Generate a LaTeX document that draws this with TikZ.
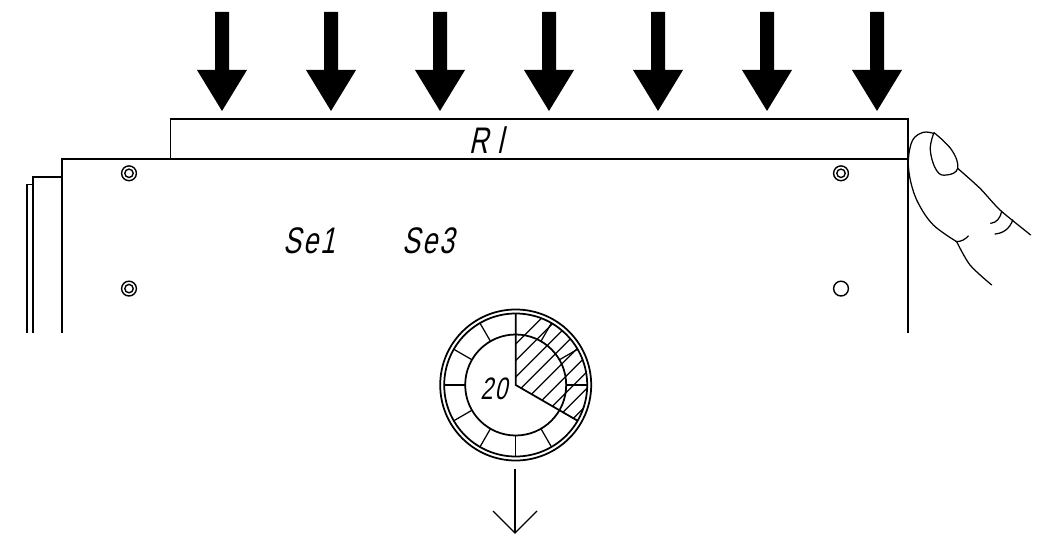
\documentclass[tikz,border=0pt]{standalone}
\usepackage{fontspec}
\newfontfamily\isofont[FakeStretch=0.72,FakeSlant=0.22,LetterSpace=6]{Liberation Sans}
\tikzset{
  ln/.style={line width=1.75pt,black},
  thin ln/.style={line width=1.25pt,black,line cap=round,line join=round},
  lbl/.style={inner sep=0pt,font=\isofont\fontsize{37}{37}\selectfont},
  dial lbl/.style={inner sep=0pt,font=\isofont\fontsize{31}{31}\selectfont},
}
\begin{document}
\begin{tikzpicture}[x=1pt,y=-1pt]
\useasboundingbox (0,0) rectangle (1038,540);
% load arrows
\foreach \ax in {222,331,440,549,658,767,877}{
  \fill[black] (\ax-7,12) -- (\ax+7,12) -- (\ax+7,70) -- (\ax+25,70) -- (\ax,111) -- (\ax-25,70) -- (\ax-7,70) -- cycle;
}
% panels
\draw[ln] (170.5,159) -- (170.5,119) -- (908,119) -- (908,159);
\draw[ln] (62,333) -- (62,159) -- (908,159) -- (908,333);
\draw[ln] (62,177) -- (33.2,177) -- (33.2,333);
\draw[ln] (33.2,184.5) -- (27.2,184.5) -- (27.2,333);
% holes
\foreach \hx/\hy in {129/173.3,129/288.6,841/173.3}{
  \draw[line width=1.4pt] (\hx,\hy) circle[radius=7.4];
  \draw[line width=1.4pt] (\hx,\hy) circle[radius=4.2];
}
\draw[line width=1.4pt] (841,288.6) circle[radius=7.4];
% labels
\node[lbl] (rl) at (486,140.5) {R\kern9pt l};
\node[lbl] (seone) at (309,241) {Se1};
\node[lbl] (sethree) at (428,241) {Se3};
% dial
\begin{scope}[shift={(515.7,385)},x=1pt,y=1pt]
  \begin{scope}
    \clip (0,0) -- (90:72) arc[start angle=90,end angle=-30,radius=72] -- cycle;
    \foreach \c in {-41,-24.5,-8,8.5,25,41.5,58,74.5,91,107.5}{
      \draw[thin ln] (\c-90,-90) -- (\c+90,90);
    }
  \end{scope}
  \draw[ln] (0,0) circle[radius=75.5];
  \draw[ln] (0,0) circle[radius=71.5];
  \draw[ln] (0,0) circle[radius=50.5];
  \foreach \a in {60,30,0,-60,-90,-120,-150,180,150,120}{
    \draw[thin ln] (\a:50.5) -- (\a:71.5);
  }
  \draw[ln] (90:71.5) -- (0,0) -- (-30:71.5);
  \node[dial lbl] (twenty) at (-22,-4) {20};
\end{scope}
% output arrow
\coordinate (outstart) at (515,469);
\coordinate (outend) at (515,533);
\draw[ln] (outstart) -- (outend);
\draw[thin ln,line cap=butt,line join=miter] (493,511) -- (outend) -- (537,511);
% finger
\begin{scope}[shift={(820,100)},x=0.33333pt,y=-0.33333pt]
  \draw[thin ln] plot[smooth,tension=0.6] coordinates {(410,425) (340,375) (295,310) (272,245) (265,180) (278,120) (310,97) (340,100)};
  \draw[thin ln] plot[smooth,tension=0.7] coordinates {(342,98) (331,150) (350,212) (380,225) (413,205) (395,150) (342,98)};
  \draw[thin ln] plot[smooth,tension=0.4] coordinates {(413,205) (480,265) (540,330) (632,405)};
  \draw[thin ln] (545,335) .. controls (540,355) and (530,368) .. (512,370);
  \draw[thin ln] (578,360) .. controls (570,385) and (550,400) .. (525,402);
  \draw[thin ln] (445,408) .. controls (435,418) and (425,425) .. (408,425);
  \draw[thin ln] plot[smooth,tension=0.5] coordinates {(410,425) (450,495) (515,555)};
\end{scope}
\end{tikzpicture}
\end{document}
